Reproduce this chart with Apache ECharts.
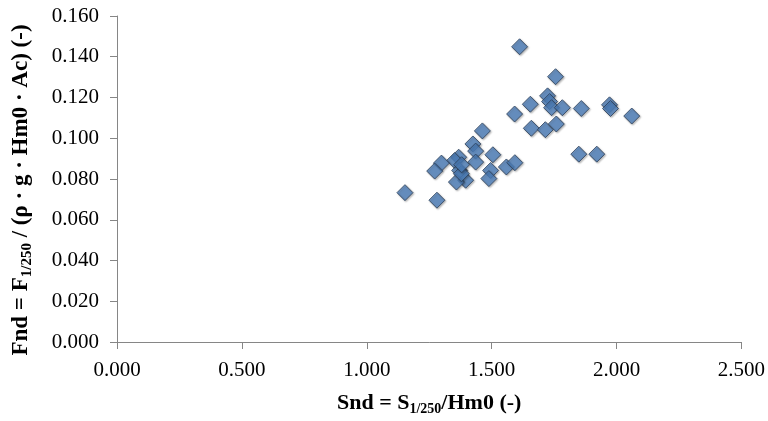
<!DOCTYPE html>
<html>
<head>
<meta charset="utf-8">
<script src="https://cdn.jsdelivr.net/npm/echarts@6/dist/echarts.min.js"></script>
<style>
  html, body { margin: 0; padding: 0; background: #fff; }
  #chart { width: 768px; height: 421px; }
</style>
</head>
<body>
<div id="chart"></div>
<script>
// Snd values (x) and Fnd values (y)
const sndValues = [1.612, 1.756, 1.724, 1.732, 1.740, 1.783, 1.655, 1.592, 1.859, 1.972,
  1.976, 2.061, 1.659, 1.715, 1.759, 1.849, 1.921, 1.463, 1.425, 1.436,
  1.505, 1.368, 1.352, 1.436, 1.299, 1.272, 1.372, 1.559, 1.593, 1.496,
  1.489, 1.396, 1.359, 1.379, 1.153, 1.281, 1.380];
const fndValues = [0.1449, 0.1302, 0.1208, 0.1180, 0.1150, 0.1150, 0.1167, 0.1119, 0.1146, 0.1164,
  0.1146, 0.1109, 0.1049, 0.1042, 0.1070, 0.0922, 0.0922, 0.1036, 0.0972, 0.0937,
  0.0919, 0.0907, 0.0891, 0.0883, 0.0878, 0.0839, 0.0842, 0.0859, 0.0880, 0.0842,
  0.0802, 0.0794, 0.0785, 0.0826, 0.0733, 0.0696, 0.0870];

const font = 'Liberation Serif, Times New Roman, serif';

let points = sndValues.map((x, i) => [x, fndValues[i]]);

const titleRich = {
  b: { fontFamily: font, fontWeight: 'bold', fontSize: 22, color: '#000' },
  sub: { fontFamily: font, fontWeight: 'bold', fontSize: 14, color: '#000', padding: [12, 0, 0, 0] }
};
const yTitleRich = {
  b: { fontFamily: font, fontWeight: 'bold', fontSize: 23, color: '#000' },
  sub: { fontFamily: font, fontWeight: 'bold', fontSize: 15, color: '#000', padding: [12, 0, 0, 0] }
};

let myChart = echarts.init(document.getElementById('chart'));
myChart.setOption({
  animation: false,
  grid: {
    left: 117,
    right: 26,
    top: 16,
    bottom: 76
  },
  xAxis: {
    type: 'value',
    min: 0,
    max: 2.5,
    interval: 0.5,
    name: '{b|Snd = S}{sub|1/250}{b|/Hm0 (-)}',
    nameLocation: 'middle',
    nameGap: 48,
    nameTextStyle: { rich: titleRich },
    splitLine: { show: false },
    axisLine: { lineStyle: { color: '#868686' } },
    axisTick: { show: true, length: 7, lineStyle: { color: '#868686' } },
    axisLabel: {
      fontFamily: font,
      fontSize: 21,
      color: '#000',
      margin: 18,
      formatter: v => v.toFixed(3)
    }
  },
  yAxis: {
    type: 'value',
    min: 0,
    max: 0.16,
    interval: 0.02,
    name: '{b|Fnd = F}{sub|1/250}{b| / (ρ · g · Hm0 · Ac) (-)}',
    nameLocation: 'middle',
    nameGap: 82,
    nameTextStyle: { rich: yTitleRich, padding: [0, 22, 0, 0] },
    splitLine: { show: false },
    axisLine: { show: true, lineStyle: { color: '#868686' } },
    axisTick: { show: true, length: 7, lineStyle: { color: '#868686' } },
    axisLabel: {
      fontFamily: font,
      fontSize: 21,
      color: '#000',
      margin: 18,
      formatter: v => v.toFixed(3)
    }
  },
  series: [
    {
      type: 'scatter',
      symbol: 'diamond',
      symbolSize: 16,
      itemStyle: {
        color: '#4f81bd',
        borderColor: '#2c3e57',
        borderWidth: 1,
        shadowColor: 'rgba(0,0,0,0.35)',
        shadowBlur: 2,
        shadowOffsetX: 1,
        shadowOffsetY: 1
      },
      data: points
    }
  ]
});
</script>
</body>
</html>
